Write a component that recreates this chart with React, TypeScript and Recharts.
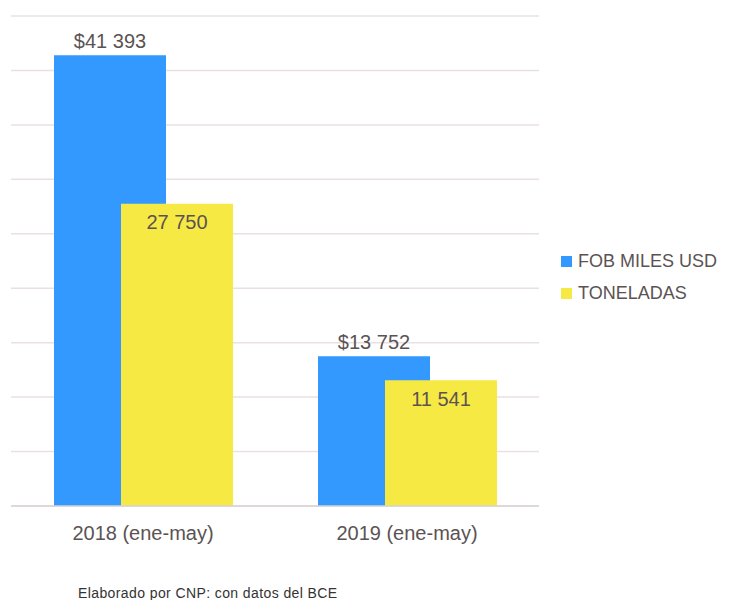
import { BarChart, Bar, XAxis, YAxis, CartesianGrid, Legend, LabelList } from "recharts";

const periods = ["2018 (ene-may)", "2019 (ene-may)"];
const fobMilesUsd = [41393, 13752];
const toneladas = [27750, 11541];
const yTicks = [0, 5000, 10000, 15000, 20000, 25000, 30000, 35000, 40000, 45000];

const FONT = "'Liberation Sans', Arial, sans-serif";
const TEXT = "#5b5353";

const data = periods.map((p, i) => ({
  period: p,
  fob: fobMilesUsd[i],
  ton: toneladas[i],
}));

const fmt = (v: number) => String(v).replace(/\B(?=(\d{3})+(?!\d))/g, " ");

const legendItems = [
  { label: "FOB MILES USD", color: "#3399ff" },
  { label: "TONELADAS", color: "#f7e943" },
];

function LegendBox() {
  return (
    <div style={{ fontFamily: FONT, fontSize: 18, color: TEXT }}>
      {legendItems.map((it) => (
        <div key={it.label} style={{ display: "flex", alignItems: "center", height: 32 }}>
          <span style={{ width: 11, height: 11, background: it.color, marginRight: 6, display: "inline-block" }} />
          {it.label}
        </div>
      ))}
    </div>
  );
}

export default function App() {
  return (
    <div style={{ position: "absolute", left: 0, top: 0, width: 729, height: 600, background: "#fff" }}>
      <BarChart
        width={729}
        height={600}
        data={data}
        margin={{ top: 16, right: 190, left: 11, bottom: 64 }}
        barGap={-45}
        barSize={112}
      >
        <CartesianGrid vertical={false} stroke="#e9e1e1" strokeWidth={1.5} />
        <YAxis hide domain={[0, 45000]} ticks={yTicks} />
        <XAxis
          dataKey="period"
          tickLine={false}
          axisLine={{ stroke: "#d9d3d3", strokeWidth: 1.5 }}
          tickMargin={14}
          tick={{ fontSize: 20, fill: TEXT, fontFamily: FONT }}
        />
        <Legend
          layout="vertical"
          align="center"
          verticalAlign="middle"
          content={() => <LegendBox />}
          wrapperStyle={{ left: 561, top: 245, width: 170 }}
        />
        <Bar dataKey="fob" fill="#3399ff" isAnimationActive={false}>
          <LabelList
            dataKey="fob"
            position="top"
            offset={7}
            formatter={(v: any) => "$" + fmt(Number(v))}
            style={{ fontSize: 20, fill: TEXT, fontFamily: FONT }}
          />
        </Bar>
        <Bar dataKey="ton" fill="#f7e943" isAnimationActive={false}>
          <LabelList
            dataKey="ton"
            position="insideTop"
            offset={11}
            formatter={(v: any) => fmt(Number(v))}
            style={{ fontSize: 20, fill: TEXT, fontFamily: FONT }}
          />
        </Bar>
      </BarChart>
      <div
        style={{
          position: "absolute",
          left: 78,
          top: 585,
          fontFamily: FONT,
          fontSize: 14,
          letterSpacing: 0.4,
          color: "#333",
          whiteSpace: "nowrap",
        }}
      >
        Elaborado por CNP: con datos del BCE
      </div>
    </div>
  );
}
